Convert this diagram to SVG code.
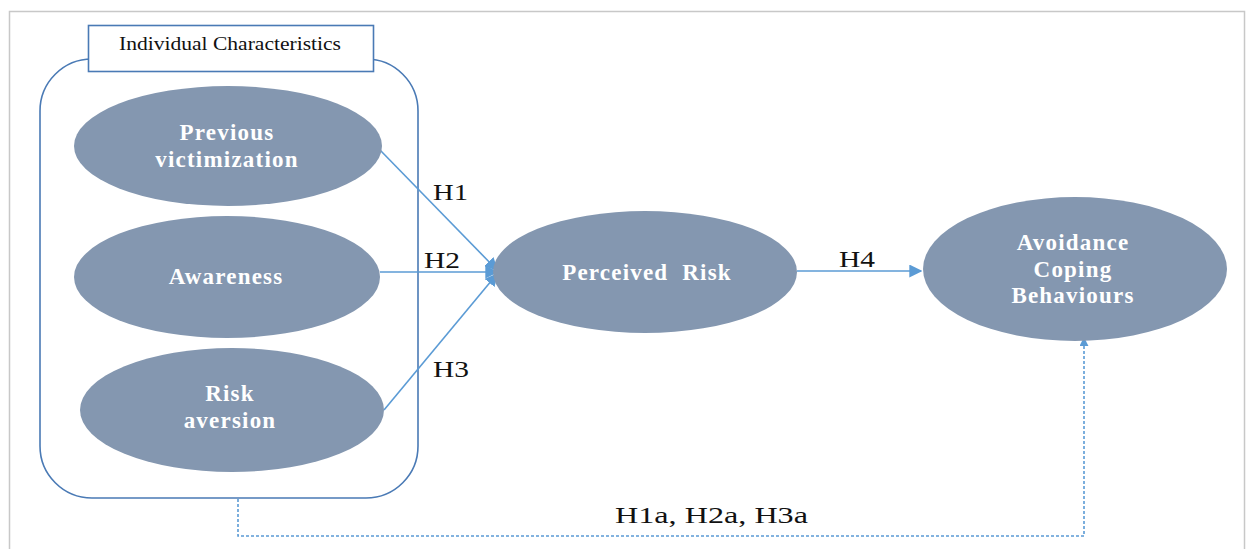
<svg xmlns="http://www.w3.org/2000/svg" width="1256" height="549" viewBox="0 0 1256 549">
  <style>
    .node ellipse { fill: #8497b0; }
    .nt { font-family: "Liberation Serif", "Times New Roman", serif; font-weight: bold; font-size: 23px; fill: #ffffff; text-anchor: middle; letter-spacing: 1.2px; }
    .lbl { font-family: "Liberation Serif", "Times New Roman", serif; font-size: 23px; fill: #111111; }
    .conn { stroke: #5b9bd5; stroke-width: 1.6; fill: none; }
  </style>
  <defs>
    <marker id="arr" viewBox="0 0 10 10" refX="9" refY="5" markerWidth="9" markerHeight="9" markerUnits="userSpaceOnUse" orient="auto">
      <path d="M0,0 L10,5 L0,10 z" fill="#5b9bd5"/>
    </marker>
    <marker id="arrL" viewBox="0 0 10 10" refX="9" refY="5" markerWidth="13" markerHeight="13" markerUnits="userSpaceOnUse" orient="auto">
      <path d="M0,0 L10,5 L0,10 z" fill="#5b9bd5"/>
    </marker>
  </defs>
  <rect x="0" y="0" width="1256" height="549" fill="#ffffff"/>
  <rect x="9.5" y="11.5" width="1235" height="560" fill="none" stroke="#c8c8c8" stroke-width="1.5"/>

  <g id="individual-characteristics">
    <rect x="40" y="59" width="378" height="439" rx="52" ry="52" fill="none" stroke="#4a7ab5" stroke-width="1.6"/>
    <rect x="88.5" y="25.5" width="285" height="46" fill="#ffffff" stroke="#4a7ab5" stroke-width="1.6"/>
    <text x="230" y="50" font-family="'Liberation Serif', 'Times New Roman', serif" font-size="18px" fill="#111111" text-anchor="middle" textLength="222" lengthAdjust="spacingAndGlyphs">Individual Characteristics</text>
  </g>

  <g id="connectors">
    <line class="conn" x1="380" y1="150" x2="497" y2="270" marker-end="url(#arrL)"/>
    <line class="conn" x1="380" y1="272" x2="497" y2="272" marker-end="url(#arrL)"/>
    <line class="conn" x1="384" y1="410" x2="497" y2="274" marker-end="url(#arrL)"/>
    <line class="conn" x1="797" y1="271" x2="921" y2="271" marker-end="url(#arrL)"/>
    <polyline class="conn" points="238,499 238,536 1084,536 1084,338" stroke-dasharray="3,2" marker-end="url(#arr)"/>
    <text class="lbl" x="433" y="200" textLength="35" lengthAdjust="spacingAndGlyphs">H1</text>
    <text class="lbl" x="424" y="268" textLength="36" lengthAdjust="spacingAndGlyphs">H2</text>
    <text class="lbl" x="433" y="377" textLength="36" lengthAdjust="spacingAndGlyphs">H3</text>
    <text class="lbl" x="839" y="267" textLength="36" lengthAdjust="spacingAndGlyphs">H4</text>
    <text class="lbl" x="615" y="523" textLength="193" lengthAdjust="spacingAndGlyphs">H1a, H2a, H3a</text>
  </g>

  <g id="previous-victimization" class="node">
    <ellipse cx="228" cy="146" rx="154" ry="60"/>
    <text class="nt" x="227" y="140">Previous</text>
    <text class="nt" x="227" y="167">victimization</text>
  </g>
  <g id="awareness" class="node">
    <ellipse cx="227" cy="277" rx="153" ry="61"/>
    <text class="nt" x="226" y="284">Awareness</text>
  </g>
  <g id="risk-aversion" class="node">
    <ellipse cx="232" cy="410" rx="152" ry="62"/>
    <text class="nt" x="230" y="401">Risk</text>
    <text class="nt" x="230" y="428">aversion</text>
  </g>
  <g id="perceived-risk" class="node">
    <ellipse cx="645" cy="272" rx="152" ry="61"/>
    <text class="nt" x="647" y="280" xml:space="preserve">Perceived  Risk</text>
  </g>
  <g id="avoidance-coping-behaviours" class="node">
    <ellipse cx="1075" cy="269" rx="152" ry="72"/>
    <text class="nt" x="1073" y="250">Avoidance</text>
    <text class="nt" x="1073" y="277">Coping</text>
    <text class="nt" x="1073" y="303">Behaviours</text>
  </g>
</svg>
